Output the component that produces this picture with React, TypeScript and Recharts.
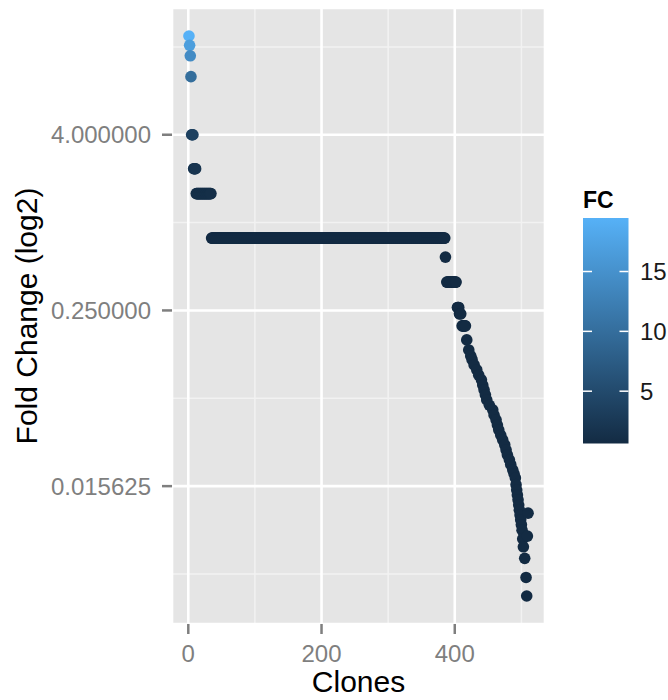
import { ScatterChart, Scatter, XAxis, YAxis, CartesianGrid } from 'recharts'

const FONT = '"Liberation Sans", Arial, Helvetica, sans-serif'

// groups of clones that share one fold change (first clone, last clone, value)
const runFrom = [5, 8, 12, 35, 388, 404, 407, 411]
const runTo = [7, 11, 34, 385, 402, 406, 409, 416]
const runFC = [4.0, 2.34, 1.58, 0.783, 0.391, 0.262, 0.237, 0.196]

// single clones
const singleClone = [
  1, 2, 3, 4, 386, 418, 421, 424, 426, 429, 433, 436, 440, 442, 444, 446, 448, 452,
  457, 459, 462, 464, 466, 469, 472, 475, 477, 479, 482, 484, 487, 489, 491, 492,
  493, 494, 495, 496, 497, 498, 499, 500, 501, 502, 503, 505, 507, 508, 509, 510,
]
const singleFC = [
  19.0, 16.4, 13.9, 10.0, 0.58, 0.157, 0.134, 0.122, 0.115, 0.106, 0.098, 0.09,
  0.0836, 0.077, 0.0714, 0.066, 0.0609, 0.056, 0.0521, 0.048, 0.0445, 0.041, 0.038,
  0.035, 0.0324, 0.03, 0.0277, 0.0256, 0.0237, 0.022, 0.0202, 0.019, 0.0178, 0.016,
  0.0147, 0.0136, 0.0126, 0.0116, 0.0107, 0.0099, 0.0092, 0.0085, 0.0078, 0.0068,
  0.006, 0.005, 0.0037, 0.00276, 0.0071, 0.0102,
]

const xTicks = [0, 200, 400]
const xMinor = [100, 300, 500]
const yTicks = [0.015625, 0.25, 4]
const yMinor = [1 / 256, 1 / 16, 1, 16]
const legendBreaks = [5, 10, 15]
const colourFloor = 1.1

const LOW = [0x13, 0x2b, 0x43]
const HIGH = [0x56, 0xb1, 0xf7]

type Pt = { clone: number; fc: number }

const points: Pt[] = []
runFrom.forEach((from, i) => {
  for (let c = from; c <= runTo[i]; c++) points.push({ clone: c, fc: runFC[i] })
})
singleClone.forEach((c, i) => points.push({ clone: c, fc: singleFC[i] }))
points.sort((a, b) => a.clone - b.clone)

const allFC = points.map((p) => p.fc)
const fcMax = Math.max(...allFC)
const fcMin = Math.min(...allFC)
const cloneMin = Math.min(...points.map((p) => p.clone))
const cloneMax = Math.max(...points.map((p) => p.clone))

// ggplot-style 5% expansion (in log2 space for y)
const xPad = (cloneMax - cloneMin) * 0.05
const xDomain = [cloneMin - xPad, cloneMax + xPad]
const lMin = Math.log2(fcMin)
const lMax = Math.log2(fcMax)
const lPad = (lMax - lMin) * 0.05
const yDomain = [Math.pow(2, lMin - lPad), Math.pow(2, lMax + lPad)]

function fcColour(v: number) {
  const t = Math.max(0, Math.min(1, (v - colourFloor) / (fcMax - colourFloor)))
  const c = LOW.map((l, i) => Math.round(l + (HIGH[i] - l) * t))
  return `rgb(${c[0]},${c[1]},${c[2]})`
}

const Dot = (props: any) => {
  if (props.cx == null || props.cy == null) return <g />
  return <circle cx={props.cx} cy={props.cy} r={5.8} fill={fcColour(props.payload.fc)} />
}

function Legend() {
  const barX = 583
  const barY = 218
  const barW = 45.5
  const barH = 225.5
  const limTop = barY + (barH * 0.5) / 20
  const limSpan = (barH * 19) / 20
  const pos = (v: number) => limTop + ((fcMax - v) / (fcMax - colourFloor)) * limSpan
  return (
    <svg width={668} height={700} style={{ position: 'absolute', left: 0, top: 0, pointerEvents: 'none' }}>
      <defs>
        <linearGradient id="fcGrad" x1="0" y1="0" x2="0" y2="1">
          <stop offset="0%" stopColor="#56B1F7" />
          <stop offset="100%" stopColor="#132B43" />
        </linearGradient>
      </defs>
      <text x={583} y={207.5} fontFamily={FONT} fontSize={23} fontWeight="bold" fill="#000">
        FC
      </text>
      <rect x={barX} y={barY} width={barW} height={barH} fill="url(#fcGrad)" />
      {legendBreaks.map((b) => (
        <g key={b}>
          <line x1={barX} x2={barX + 9} y1={pos(b)} y2={pos(b)} stroke="#fff" strokeWidth={1.5} />
          <line x1={barX + barW - 9} x2={barX + barW} y1={pos(b)} y2={pos(b)} stroke="#fff" strokeWidth={1.5} />
          <text x={640} y={pos(b)} dy="0.36em" fontFamily={FONT} fontSize={24} fill="#1a1a1a">
            {b}
          </text>
        </g>
      ))}
    </svg>
  )
}

export default function App() {
  return (
    <div style={{ position: 'absolute', left: 0, top: 0, width: 668, height: 700, background: '#fff' }}>
      <ScatterChart width={668} height={700} margin={{ top: 8, right: 123, bottom: 0, left: 0 }}>
        <CartesianGrid
          fill="#E5E5E5"
          stroke="#F2F2F2"
          strokeWidth={1.5}
          horizontalValues={yMinor}
          verticalValues={xMinor}
        />
        <CartesianGrid stroke="#FFFFFF" strokeWidth={2.6} />
        <XAxis
          type="number"
          dataKey="clone"
          domain={xDomain}
          ticks={xTicks}
          allowDataOverflow
          height={76}
          axisLine={false}
          tickSize={10}
          tickMargin={11}
          tickLine={{ stroke: '#7F7F7F', strokeWidth: 2.5 }}
          tick={{ fill: '#7F7F7F', fontSize: 24, fontFamily: FONT }}
          label={{
            content: (p: any) => (
              <text
                x={p.viewBox.x + p.viewBox.width / 2}
                y={692}
                textAnchor="middle"
                fontFamily={FONT}
                fontSize={30}
                fill="#000"
              >
                Clones
              </text>
            ),
          }}
        />
        <YAxis
          type="number"
          dataKey="fc"
          scale="log"
          domain={yDomain}
          ticks={yTicks}
          allowDataOverflow
          width={172}
          axisLine={false}
          tickSize={10}
          tickMargin={11}
          tickFormatter={(v: number) => v.toFixed(6)}
          tickLine={{ stroke: '#7F7F7F', strokeWidth: 2.5 }}
          tick={{ fill: '#7F7F7F', fontSize: 24, fontFamily: FONT }}
          label={{
            content: (p: any) => {
              const cy = p.viewBox.y + p.viewBox.height / 2
              return (
                <text
                  x={37}
                  y={cy}
                  transform={`rotate(-90, 37, ${cy})`}
                  textAnchor="middle"
                  fontFamily={FONT}
                  fontSize={30}
                  fill="#000"
                >
                  Fold Change (log2)
                </text>
              )
            },
          }}
        />
        <Scatter data={points} isAnimationActive={false} shape={Dot} />
      </ScatterChart>
      <Legend />
    </div>
  )
}
